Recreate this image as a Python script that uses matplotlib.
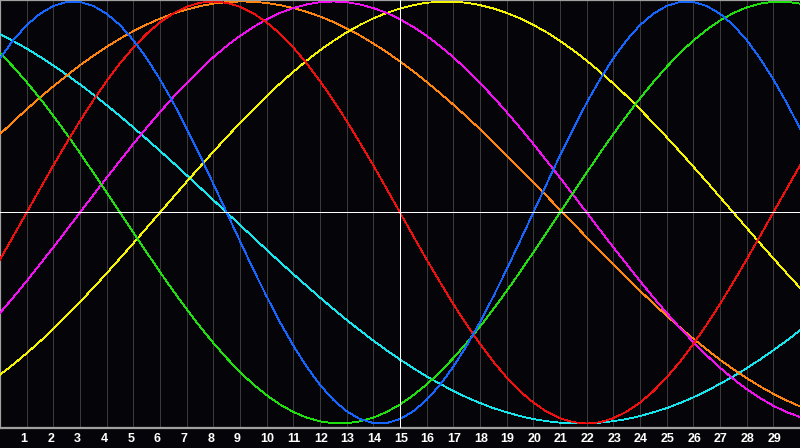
import matplotlib
matplotlib.use("Agg")
import matplotlib.pyplot as plt
import matplotlib.transforms as mtransforms

# Sample days (half-day steps from day 0 to day 30); labelled days 1..29
days = [i / 2 for i in range(61)]
tick_days = list(range(1, 30))
tick_labels = [str(d) for d in tick_days]
today = 15

# Cycle values (one value per half day)
physical = [0.731, 0.817, 0.888, 0.942, 0.979, 0.998, 0.998, 0.979, 0.942, 0.888,
            0.817, 0.731, 0.631, 0.520, 0.398, 0.270, 0.136, 0.000, -0.136, -0.270,
            -0.398, -0.520, -0.631, -0.731, -0.817, -0.888, -0.942, -0.979, -0.998, -0.998,
            -0.979, -0.942, -0.888, -0.817, -0.731, -0.631, -0.520, -0.398, -0.270, -0.136,
            0.000, 0.136, 0.270, 0.398, 0.520, 0.631, 0.731, 0.817, 0.888, 0.942,
            0.979, 0.998, 0.998, 0.979, 0.942, 0.888, 0.817, 0.731, 0.631, 0.520, 0.398]
emotional = [-0.223, -0.112, 0.000, 0.112, 0.223, 0.330, 0.434, 0.532, 0.623, 0.707,
             0.782, 0.847, 0.901, 0.944, 0.975, 0.994, 1.000, 0.994, 0.975, 0.944,
             0.901, 0.847, 0.782, 0.707, 0.623, 0.532, 0.434, 0.330, 0.223, 0.112,
             0.000, -0.112, -0.223, -0.330, -0.434, -0.532, -0.623, -0.707, -0.782, -0.847,
             -0.901, -0.944, -0.975, -0.994, -1.000, -0.994, -0.975, -0.944, -0.901, -0.847,
             -0.782, -0.707, -0.623, -0.532, -0.434, -0.330, -0.223, -0.112, 0.000, 0.112, 0.223]
intellectual = [0.756, 0.690, 0.618, 0.541, 0.458, 0.372, 0.282, 0.189, 0.095, 0.000,
                -0.095, -0.189, -0.282, -0.372, -0.458, -0.541, -0.618, -0.690, -0.756, -0.815,
                -0.866, -0.910, -0.945, -0.972, -0.990, -0.999, -0.999, -0.990, -0.972, -0.945,
                -0.910, -0.866, -0.815, -0.756, -0.690, -0.618, -0.541, -0.458, -0.372, -0.282,
                -0.189, -0.095, 0.000, 0.095, 0.189, 0.282, 0.372, 0.458, 0.541, 0.618,
                0.690, 0.756, 0.815, 0.866, 0.910, 0.945, 0.972, 0.990, 0.999, 0.999, 0.990]
intuitive = [-0.476, -0.402, -0.325, -0.245, -0.165, -0.083, 0.000, 0.083, 0.165, 0.245,
             0.325, 0.402, 0.476, 0.547, 0.614, 0.677, 0.736, 0.789, 0.837, 0.879,
             0.916, 0.946, 0.969, 0.986, 0.997, 1.000, 0.997, 0.986, 0.969, 0.946,
             0.916, 0.879, 0.837, 0.789, 0.736, 0.677, 0.614, 0.547, 0.476, 0.402,
             0.325, 0.245, 0.165, 0.083, 0.000, -0.083, -0.165, -0.245, -0.325, -0.402,
             -0.476, -0.547, -0.614, -0.677, -0.736, -0.789, -0.837, -0.879, -0.916, -0.946, -0.969]
aesthetic = [-0.769, -0.720, -0.667, -0.611, -0.552, -0.489, -0.424, -0.357, -0.288, -0.217,
             -0.146, -0.073, 0.000, 0.073, 0.146, 0.217, 0.288, 0.357, 0.424, 0.489,
             0.552, 0.611, 0.667, 0.720, 0.769, 0.813, 0.854, 0.889, 0.920, 0.946,
             0.967, 0.983, 0.994, 0.999, 0.999, 0.994, 0.983, 0.967, 0.946, 0.920,
             0.889, 0.854, 0.813, 0.769, 0.720, 0.667, 0.611, 0.552, 0.489, 0.424,
             0.357, 0.288, 0.217, 0.146, 0.073, 0.000, -0.073, -0.146, -0.217, -0.288, -0.357]
awareness = [0.371, 0.431, 0.489, 0.545, 0.598, 0.649, 0.698, 0.743, 0.785, 0.824,
             0.859, 0.891, 0.919, 0.943, 0.962, 0.978, 0.990, 0.997, 1.000, 0.999,
             0.993, 0.983, 0.969, 0.951, 0.929, 0.903, 0.872, 0.839, 0.801, 0.760,
             0.716, 0.669, 0.619, 0.566, 0.511, 0.454, 0.395, 0.334, 0.271, 0.208,
             0.143, 0.078, 0.013, -0.052, -0.118, -0.182, -0.246, -0.309, -0.371, -0.431,
             -0.489, -0.545, -0.598, -0.649, -0.698, -0.743, -0.785, -0.824, -0.859, -0.891, -0.919]
spiritual = [0.846, 0.812, 0.777, 0.738, 0.697, 0.653, 0.607, 0.559, 0.509, 0.457,
             0.403, 0.348, 0.292, 0.235, 0.177, 0.118, 0.059, 0.000, -0.059, -0.118,
             -0.177, -0.235, -0.292, -0.348, -0.403, -0.457, -0.509, -0.559, -0.607, -0.653,
             -0.697, -0.738, -0.777, -0.812, -0.846, -0.876, -0.903, -0.927, -0.947, -0.965,
             -0.979, -0.989, -0.996, -1.000, -1.000, -0.996, -0.989, -0.979, -0.965, -0.947,
             -0.927, -0.903, -0.876, -0.846, -0.812, -0.777, -0.738, -0.697, -0.653, -0.607, -0.559]

series = [
    (spiritual, "#18e6ee"),
    (awareness, "#ff8410"),
    (aesthetic, "#f4f400"),
    (intuitive, "#f010f0"),
    (intellectual, "#20e010"),
    (emotional, "#f01010"),
    (physical, "#1466ff"),
]

BG = "#050509"
W, H, DPI = 800, 448, 100
PX = 72.0 / DPI  # one pixel in points
fig = plt.figure(figsize=(W / DPI, H / DPI), dpi=DPI, facecolor=BG)
plot_bottom_px = 428
ax = fig.add_axes([0, (H - plot_bottom_px) / H, 1, plot_bottom_px / H])
ax.set_facecolor(BG)

center_px, amp_px = 212.5, 211.0
ax.set_xlim(0, 30)
ax.set_ylim((center_px - plot_bottom_px) / amp_px, center_px / amp_px)

for d in tick_days:
    ax.axvline(d, color="#3a3a3a", lw=PX, antialiased=False, zorder=1)

for vals, col in series:
    ax.plot(days, vals, color=col, lw=0.8 * PX, antialiased=False, zorder=3)

ax.axhline(0, color="white", lw=PX, antialiased=False, zorder=4)
ax.axvline(today, color="white", lw=PX, antialiased=False, zorder=4)

ax.set_xticks([])
ax.set_yticks([])
for side in ["left", "top", "bottom"]:
    ax.spines[side].set_color("#a0a0a0")
    ax.spines[side].set_linewidth(1.6)
ax.spines["right"].set_visible(False)

trans = mtransforms.blended_transform_factory(ax.transData, fig.transFigure)
trans = trans + mtransforms.ScaledTranslation(-6 / DPI, 0, fig.dpi_scale_trans)
label_y = (H - 439) / H
for d, lab in zip(tick_days, tick_labels):
    ax.text(d, label_y, lab, transform=trans, ha="left", va="center",
            color="white", fontsize=9, fontweight="bold",
            family=["Liberation Sans", "DejaVu Sans"], clip_on=False)

fig.savefig("out.png", dpi=DPI, facecolor=BG)
